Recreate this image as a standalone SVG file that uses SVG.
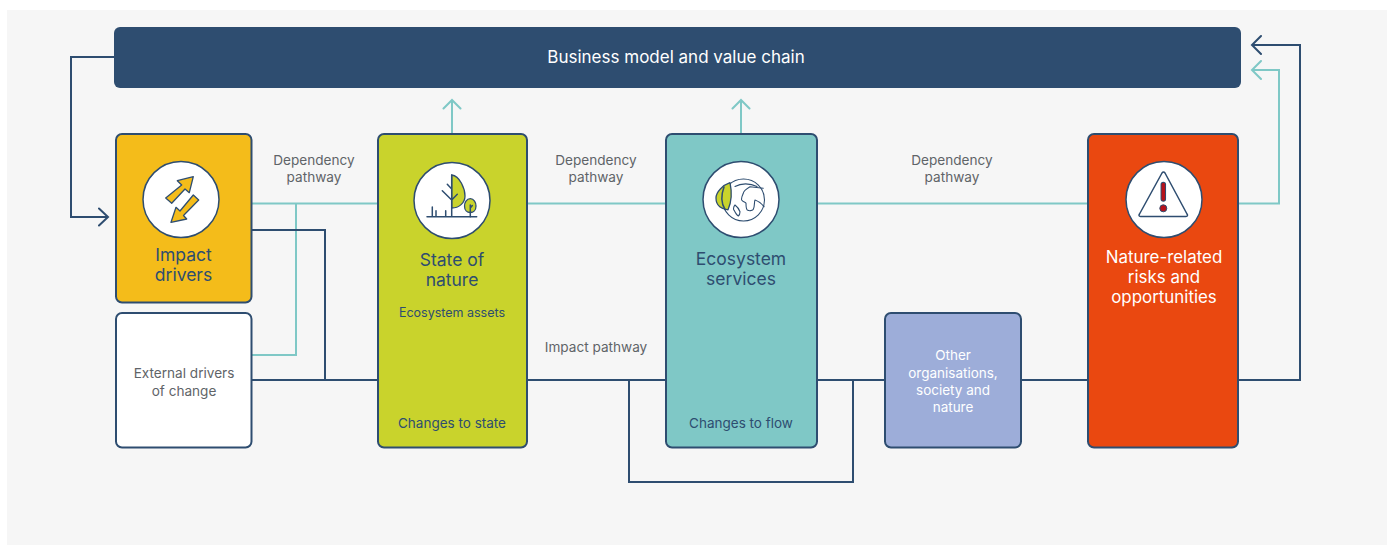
<svg xmlns="http://www.w3.org/2000/svg" width="1387" height="545" viewBox="0 0 1387 545">
<style>
text{font-family:"Inter","Liberation Sans",Arial,sans-serif;text-anchor:middle}
.box{stroke:#2e4d70;stroke-width:2}
.n{fill:#2e4d70}
.l{fill:#5f6468;font-size:13.600px}
.s{fill:#2e4d70;font-size:13.500px}
.w{fill:#fff;font-size:13.500px}
.t{font-size:17.500px}
.tw{font-size:16.900px;fill:#fff}
.c{fill:none;stroke-width:2}
.navy{stroke:#2e4d70}
.teal{stroke:#7fc8c6}
.ic{fill:none;stroke:#2e4d70;stroke-width:1.500;stroke-linecap:round;stroke-linejoin:round}
.thin{fill:none;stroke:#2e4d70;stroke-width:1.100;stroke-linecap:round;stroke-linejoin:round}
.disc{fill:#fff;stroke:#2e4d70;stroke-width:1.500}
.fillic{stroke:#2e4d70;stroke-width:1.300;stroke-linejoin:round}
</style>
<rect width="1387" height="545" fill="#fff"/>
<rect x="7" y="10" width="1380" height="535" fill="#f6f6f6"/>
<g id="connectors">
<path class="c teal" d="M252 203.500H378M527 203.500H666M817 203.500H1088M1238 203.500H1279V70H1252M296 203.500V355H252M452 134V100M741 134V100"/>
<path class="c teal" d="M1261 61L1252 70L1261 79M443.500 108.500L452 100L460.500 108.500M732.500 108.500L741 100L749.500 108.500" stroke-linecap="round"/>
<path class="c navy" d="M114 57H71V217H107M252 230H325V380M252 380H378M527 380H666M817 380H886M1021 380H1088M1238 380H1300V45H1252M629 380V482H853V380"/>
<path class="c navy" d="M99 208.500L108 217L99 225.500M1261 36L1252 45L1261 54" stroke-linecap="round"/>
</g>
<g id="value-chain">
<rect x="114" y="27" width="1127" height="61" rx="6" fill="#2e4d70"/>
<text x="676" y="62.500" class="tw" style="font-size:17px">Business model and value chain</text>
</g>
<g id="impact-drivers">
<rect class="box" x="116" y="134" width="135.500" height="168.500" rx="6" fill="#f4bc1a"/>
<circle class="disc" cx="181" cy="199.500" r="38"/>
<path class="fillic" d="M193.300 176.700L189.300 192.700L185 189L171.700 203.300L165.700 198L181.700 185L177.300 180.700Z" fill="#f4bc1a"/>
<path class="fillic" d="M171 222.300L176 207.300L180 211L193.300 195L198.700 200L183.500 215.500L186.700 219Z" fill="#f4bc1a"/>
<text x="183.500" y="261" class="t n">Impact</text>
<text x="183.500" y="281" class="t n">drivers</text>
</g>
<g id="external-drivers">
<rect class="box" x="116" y="313" width="135.500" height="134.500" rx="6" fill="#fff"/>
<text x="184" y="378" class="l">External drivers</text>
<text x="184" y="396" class="l">of change</text>
</g>
<g id="state-of-nature">
<rect class="box" x="378" y="134" width="149" height="313.500" rx="6" fill="#c9d32c"/>
<circle class="disc" cx="452" cy="200.500" r="38"/>
<path class="fillic" d="M451.700 175C460 176 465 189 465 196C465 203 459 208 451.700 208Z" fill="#c9d32c"/>
<path class="ic" d="M451.700 175V216.700M451.700 200L442.300 190.700M451.700 200L457.300 194.300M451.700 189L447.300 184.300M427 216.700H476.700M432.300 216.700V207M436 216.700V210.700M445.700 216.700V210.700"/>
<path class="fillic" d="M470.300 198.700C474 198.700 476 203 476 206C476 210 473.500 212.500 470.300 212.500C467 212.500 464.500 210 464.500 206C464.500 203 466.500 198.700 470.300 198.700Z" fill="#c9d32c"/>
<path class="ic" d="M470.300 216.700V205M470.300 208L472.300 205.500"/>
<text x="452" y="266" class="t n">State of</text>
<text x="452" y="286" class="t n">nature</text>
<text x="452" y="317" class="s" style="font-size:12.500px">Ecosystem assets</text>
<text x="452" y="428" class="s">Changes to state</text>
</g>
<g id="ecosystem-services">
<rect class="box" x="666" y="134" width="151" height="313.500" rx="6" fill="#7fc8c6"/>
<circle class="disc" cx="741" cy="199.500" r="38"/>
<circle class="thin" cx="743.500" cy="200" r="21"/>
<path class="thin" d="M735 186.500C741 183 750 183 757 186.500"/>
<path class="fillic" d="M730 182.700C723 185 716 192 716 198C716 206 722 209.500 728 209.800C732 201 732 192 730 182.700Z" fill="#c9d32c"/>
<path class="ic" d="M724 187C721 195 721 203 725 209.500"/>
<path class="thin" d="M763.300 188.300L750 186.700C746 189 743.500 191 743.300 193.300C742 196 741 198 741.700 200C743 202 745.500 202 746 203.300C746 206 746 209 747.300 210C749 211 752 211 753.300 209.300C755 206 754 202 755 200C758 201 762 204 764 206.700M735 205C733 207 733.500 210 734 210C735 212 736.500 215 738.300 216C739.500 215 740 213 740 211.700C739 209 737 206.500 735 205Z"/>
<text x="741" y="265" class="t n">Ecosystem</text>
<text x="741" y="285" class="t n">services</text>
<text x="741" y="428" class="s">Changes to flow</text>
</g>
<g id="other-organisations">
<rect class="box" x="885" y="313" width="136" height="134.500" rx="6" fill="#9dadd9"/>
<text x="953" y="360" class="w">Other</text>
<text x="953" y="378" class="w">organisations,</text>
<text x="953" y="395" class="w">society and</text>
<text x="953" y="412" class="w">nature</text>
</g>
<g id="risks-opportunities">
<rect class="box" x="1088" y="134" width="150" height="313.500" rx="6" fill="#ea4810"/>
<circle class="disc" cx="1164" cy="199.500" r="38"/>
<path class="ic" d="M1162 173L1139.500 214C1138.500 215.500 1139 216.500 1140.500 216.500H1186C1187.500 216.500 1188 215.500 1187 214L1165 173C1164 171.500 1163 171.500 1162 173Z"/>
<path d="M1163.300 184.500V199" stroke="#2e4d70" stroke-width="5.500" stroke-linecap="round"/>
<path d="M1163.300 184.500V199" stroke="#b5121b" stroke-width="3.500" stroke-linecap="round"/>
<circle cx="1163.300" cy="208.300" r="3.500" fill="#b5121b" stroke="#2e4d70"/>
<text x="1164" y="263" class="tw">Nature-related</text>
<text x="1164" y="283" class="tw">risks and</text>
<text x="1164" y="303" class="tw">opportunities</text>
</g>
<g id="labels">
<text x="314" y="165" class="l">Dependency</text>
<text x="314" y="182" class="l">pathway</text>
<text x="596" y="165" class="l">Dependency</text>
<text x="596" y="182" class="l">pathway</text>
<text x="952" y="165" class="l">Dependency</text>
<text x="952" y="182" class="l">pathway</text>
<text x="596" y="352" class="l">Impact pathway</text>
</g>
</svg>
